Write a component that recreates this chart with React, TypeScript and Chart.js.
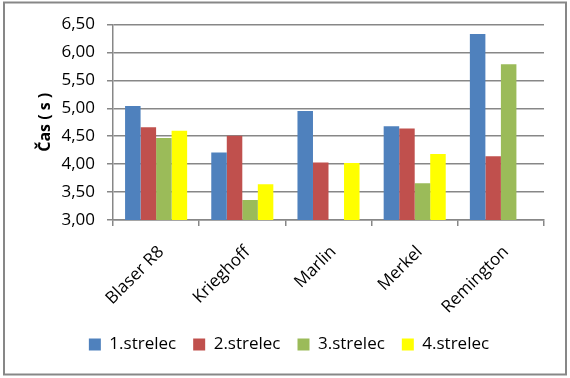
import React, { useEffect, useRef } from "react";
import { Chart, registerables } from "chart.js";

Chart.register(...registerables);

const categories = ["Blaser R8", "Krieghoff", "Marlin", "Merkel", "Remington"];
const seriesNames = ["1.strelec", "2.strelec", "3.strelec", "4.strelec"];
const strelec1 = [5.04, 4.21, 4.95, 4.68, 6.33];
const strelec2 = [4.66, 4.51, 4.03, 4.64, 4.14];
const strelec3 = [4.47, 3.36, null, 3.66, 5.79];
const strelec4 = [4.6, 3.64, 4.02, 4.18, null];
const seriesColors = ["#4F81BD", "#C0504D", "#9BBB59", "#FFFF00"];
const yMin = 3;
const yMax = 6.5;
const yStep = 0.5;
const yTitle = "Čas ( s )";

const FONT = "'Open Sans', sans-serif";

const borderPlugin = {
  id: "outerBorder",
  afterDraw(chart: any) {
    const ctx = chart.ctx;
    ctx.save();
    ctx.strokeStyle = "#878787";
    ctx.lineWidth = 2;
    ctx.strokeRect(4, 2.5, 562, 372);
    ctx.restore();
  },
};

export default function App() {
  const ref = useRef<HTMLCanvasElement | null>(null);
  useEffect(() => {
    document.body.style.margin = "0";
    const seriesData = [strelec1, strelec2, strelec3, strelec4];
    const chart = new Chart(ref.current as HTMLCanvasElement, {
      type: "bar",
      data: {
        labels: categories,
        datasets: seriesNames.map((name, i) => ({
          label: name,
          data: seriesData[i] as any,
          backgroundColor: seriesColors[i],
          borderWidth: 0,
          barPercentage: 1,
          categoryPercentage: 0.72,
        })),
      },
      options: {
        responsive: false,
        animation: false,
        devicePixelRatio: 1,
        layout: { padding: { left: 34, right: 26, top: 24.5, bottom: 15 } },
        plugins: {
          tooltip: { enabled: false },
          legend: {
            position: "bottom",
            labels: {
              boxWidth: 12,
              boxHeight: 12,
              padding: 17,
              color: "#000",
              font: { family: FONT, size: 17 },
            },
          },
        },
        scales: {
          x: {
            grid: {
              drawOnChartArea: false,
              offset: true,
              tickLength: 6,
              color: "#878787",
              lineWidth: 1.5,
            },
            border: { color: "#878787", width: 1.5 },
            ticks: {
              minRotation: 45,
              maxRotation: 45,
              color: "#000",
              padding: 16,
              labelOffset: 5,
              font: { family: FONT, size: 17 },
            },
            afterFit(scale: any) {
              scale.height = 99;
            },
          },
          y: {
            min: yMin,
            max: yMax,
            grid: { color: "#878787", lineWidth: 1.5, tickLength: 6 },
            border: { color: "#878787", width: 1.5 },
            ticks: {
              stepSize: yStep,
              padding: 12,
              color: "#000",
              font: { family: FONT, size: 17 },
              callback: (v: any) => Number(v).toFixed(2).replace(".", ","),
            },
            title: {
              display: true,
              text: yTitle,
              color: "#000",
              font: { family: FONT, size: 16, weight: "bold" },
              padding: { top: 2, bottom: 0 },
            },
            afterFit(scale: any) {
              scale.width = 79;
            },
          },
        },
      },
      plugins: [borderPlugin],
    });
    return () => chart.destroy();
  }, []);
  return <canvas ref={ref} width={570} height={378} style={{ display: "block" }} />;
}
